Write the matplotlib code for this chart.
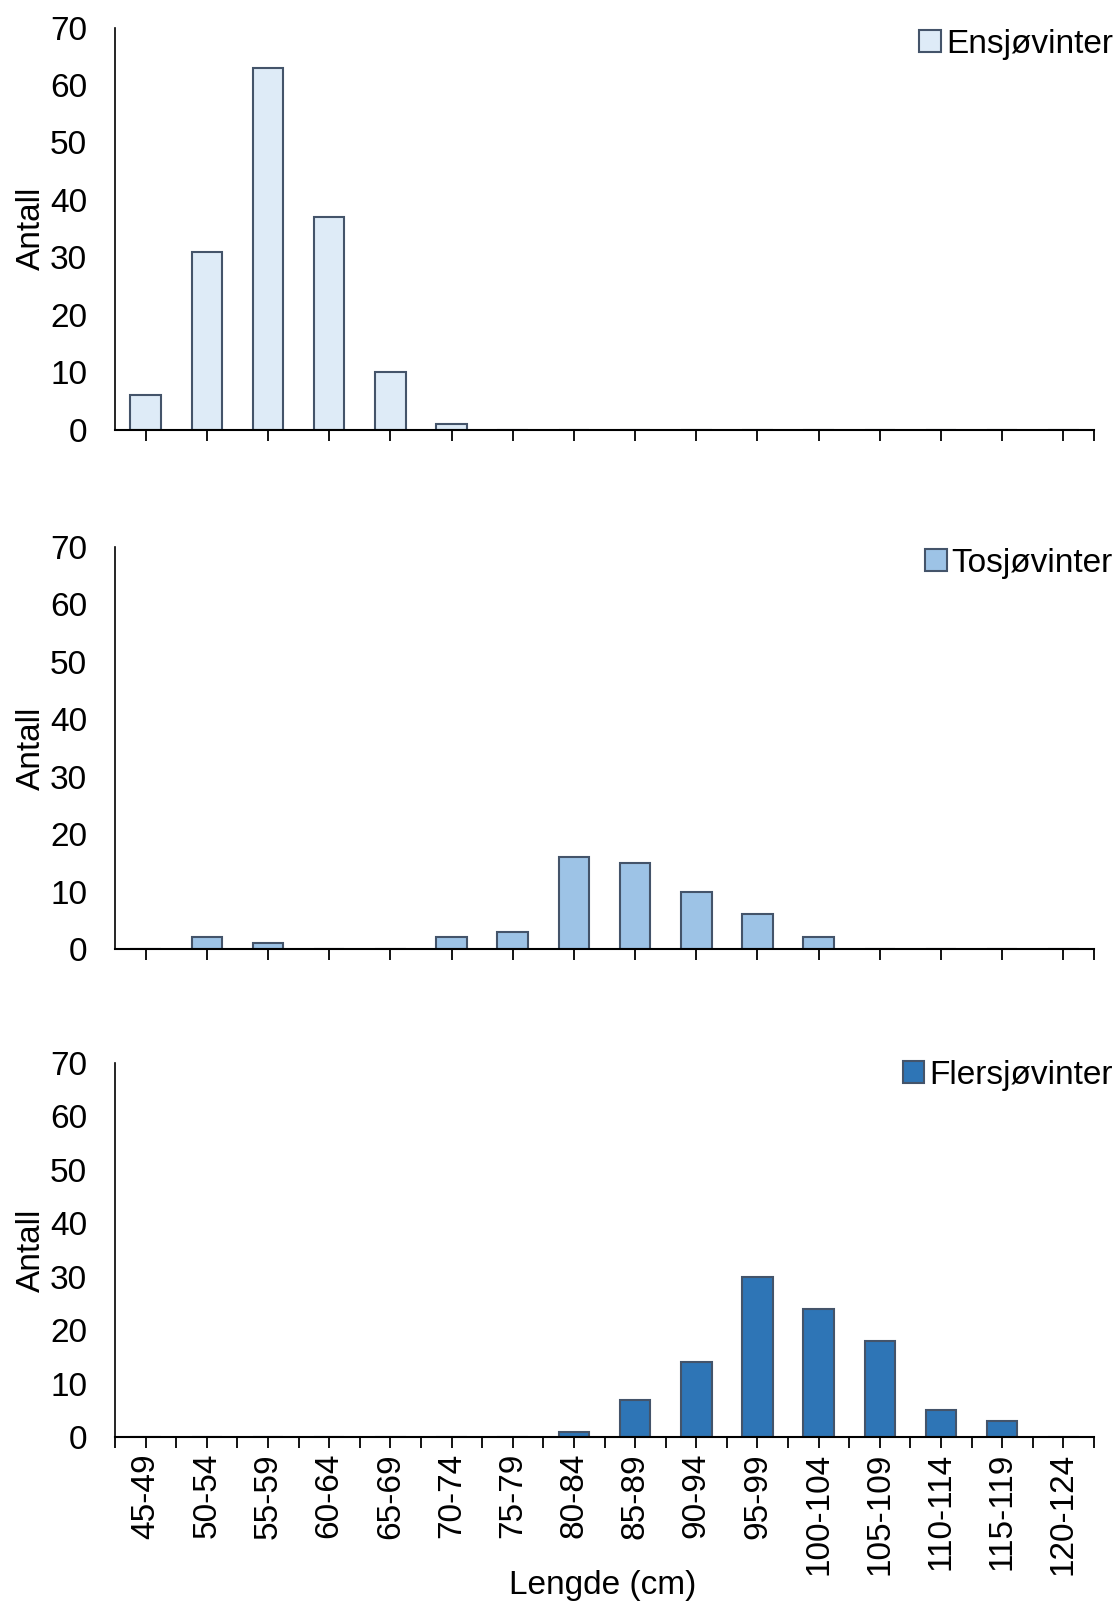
import matplotlib
matplotlib.use("Agg")
import matplotlib.pyplot as plt
from matplotlib.patches import Patch

plt.rcParams.update({"font.family": ["Liberation Sans", "DejaVu Sans"], "font.size": 24})

klasser = ["45-49", "50-54", "55-59", "60-64", "65-69", "70-74", "75-79", "80-84",
           "85-89", "90-94", "95-99", "100-104", "105-109", "110-114", "115-119", "120-124"]
ensjo = [6, 31, 63, 37, 10, 1, 0, 0, 0, 0, 0, 0, 0, 0, 0, 0]
tosjo = [0, 2, 1, 0, 0, 2, 3, 16, 15, 10, 6, 2, 0, 0, 0, 0]
flersjo = [0, 0, 0, 0, 0, 0, 0, 1, 7, 14, 30, 24, 18, 5, 3, 0]

serier = [("Ensjøvinter", ensjo, "#DEEBF7"),
          ("Tosjøvinter", tosjo, "#9DC3E6"),
          ("Flersjøvinter", flersjo, "#2E75B6")]
kant = "#44546A"

fig = plt.figure(figsize=(11.18, 16.04), dpi=100)
# [left, bottom, width, height] i figurkoordinater
pos = [[0.1029, 0.7322, 0.8756, 0.2506],
       [0.1029, 0.4084, 0.8756, 0.2506],
       [0.1029, 0.1041, 0.8756, 0.2332]]
leg_y = [0.9725, 0.6490, 0.3298]

x = list(range(len(klasser)))
for i, (navn, verdier, farge) in enumerate(serier):
    ax = fig.add_axes(pos[i])
    ax.bar(x, verdier, 0.5, color=farge, edgecolor=kant, linewidth=1.5, zorder=2)
    ax.set_xlim(-0.5, len(klasser) - 0.5)
    ax.set_ylim(0, 70)
    ax.set_yticks(range(0, 71, 10))
    ax.tick_params(axis="y", length=0, pad=20, labelsize=24)
    ax.spines["top"].set_visible(False)
    ax.spines["right"].set_visible(False)
    ax.spines["left"].set_linewidth(1.2)
    ax.spines["bottom"].set_linewidth(1.5)
    ax.set_ylabel("Antall", fontsize=24, labelpad=2)
    ax.tick_params(axis="x", direction="out", length=8, width=1.3)
    ax.set_xticks(x)
    if i < 2:
        ax.set_xticks([len(klasser) - 0.5], minor=True)
        ax.set_xticklabels([])
    else:
        ax.set_xticks([v - 0.5 for v in x] + [len(klasser) - 0.5], minor=True)
        ax.set_xticklabels(klasser, rotation=90, fontsize=24)
    ax.tick_params(axis="x", which="minor", direction="out", length=8, width=1.3)
    h = Patch(facecolor=farge, edgecolor=kant, linewidth=1.5)
    fig.legend([h], [navn], loc="center right", bbox_to_anchor=(0.9955, leg_y[i]),
               frameon=False, fontsize=24, handlelength=0.65, handleheight=0.65,
               handletextpad=0.15, borderaxespad=0, borderpad=0)

fig.text(0.539, 0.0115, "Lengde (cm)", ha="center", va="center", fontsize=24)

fig.savefig("out.png", dpi=100)
